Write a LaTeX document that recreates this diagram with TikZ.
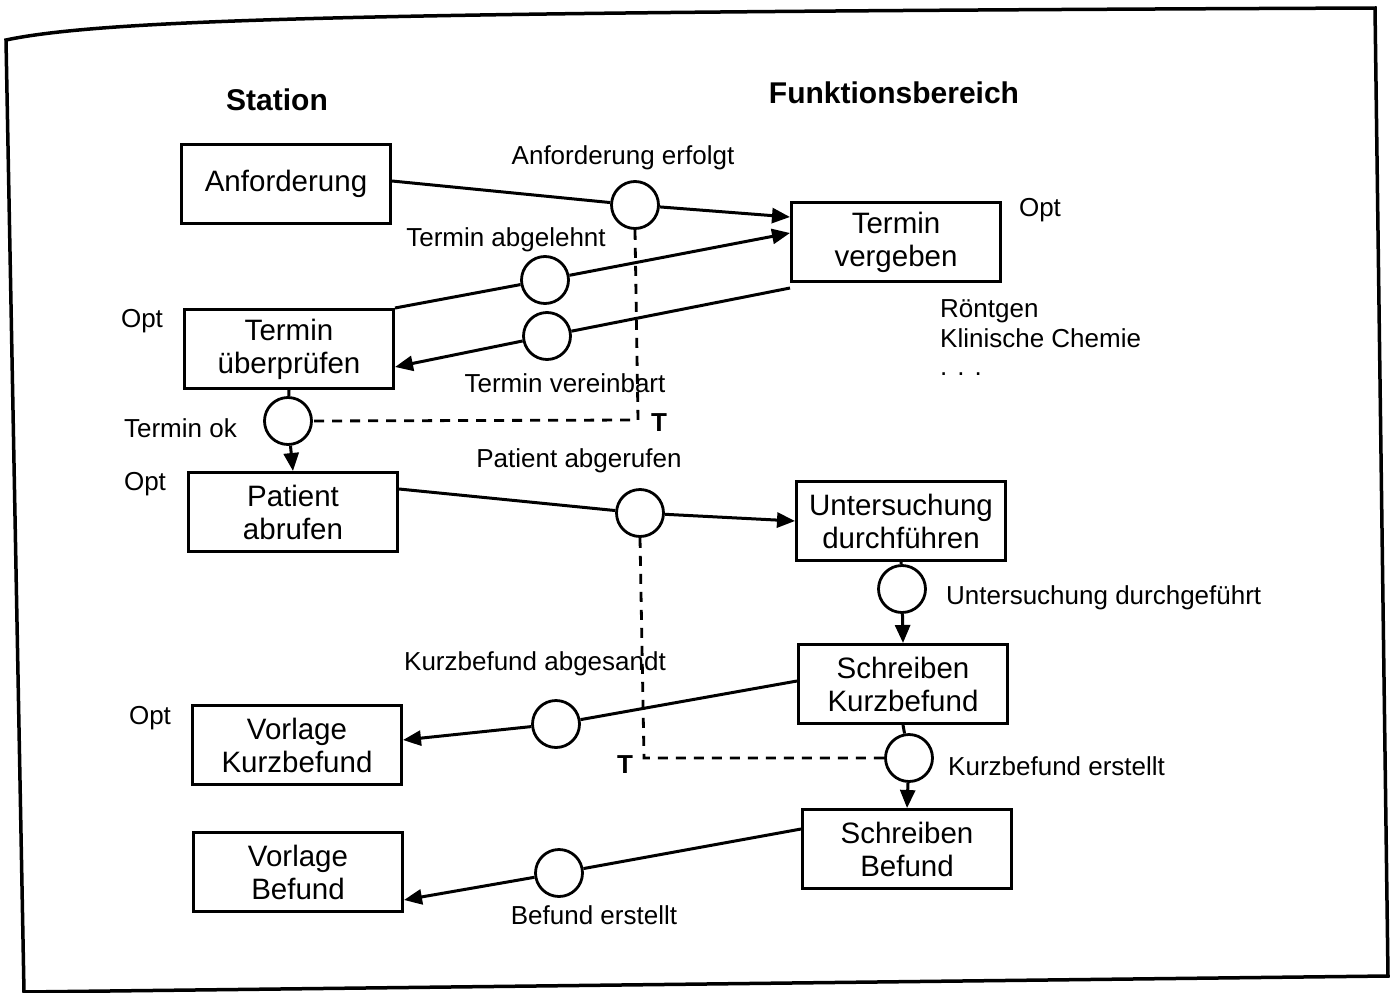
\documentclass[tikz,border=0pt]{standalone}
\usepackage{fontspec}
\setmainfont{Liberation Sans}
\usetikzlibrary{arrows.meta}
\tikzset{
  box/.style={draw, line width=3pt, minimum width=209pt, minimum height=79pt, align=center, inner sep=0pt, font=\fontsize{29.5}{33}\selectfont},
  place/.style={circle, draw, line width=2.8pt, minimum size=47pt, inner sep=0pt},
  lbl/.style={inner sep=0pt, font=\fontsize{26}{31}\selectfont},
  head/.style={inner sep=0pt, font=\fontsize{30}{34}\selectfont\bfseries},
  conn/.style={line width=3pt},
  arr/.style={conn, -{Triangle[length=18pt,width=15pt]}},
  dashline/.style={line width=2.8pt, dash pattern=on 10pt off 8pt},
  frame/.style={line width=3.5pt, line join=miter}
}
\begin{document}
\begin{tikzpicture}[x=1pt,y=-1pt]
\useasboundingbox (0,0) rectangle (1398,993);
% frame
\draw[frame] (6,40) .. controls (110,18) and (400,12) .. (1375,8) -- (1388,976) -- (24,992) -- cycle;

% headings
\node[head] (hst) at (277,100) {Station};
\node[head] (hfb) at (894,93) {Funktionsbereich};

% boxes
\node[box] (anf) at (286,184) {Anforderung};
\node[box] (tv) at (896,242) {Termin\\vergeben};
\node[box] (tu) at (289,349) {Termin\\überprüfen};
\node[box] (pa) at (293,512) {Patient\\abrufen};
\node[box] (ud) at (901,521) {Untersuchung\\durchführen};
\node[box] (sk) at (903,684) {Schreiben\\Kurzbefund};
\node[box] (vk) at (297,745) {Vorlage\\Kurzbefund};
\node[box] (sb) at (907,849) {Schreiben\\Befund};
\node[box] (vb) at (298,872) {Vorlage\\Befund};

% places
\node[place] (c1) at (635,205) {};
\node[place] (c2) at (545,280) {};
\node[place] (c3) at (547,336) {};
\node[place] (c4) at (288,421) {};
\node[place] (c5) at (640,513) {};
\node[place] (c6) at (902,589) {};
\node[place] (c7) at (556,724) {};
\node[place] (c8) at (909,758) {};
\node[place] (c9) at (559,873) {};

% labels
\node[lbl] (l1) at (623,158) {Anforderung erfolgt};
\node[lbl] (l2) at (506,240) {Termin abgelehnt};
\node[lbl] (l3) at (565,383) {Termin vereinbart};
\node[lbl, anchor=east] (l4) at (237,428) {Termin ok};
\node[lbl] (l5) at (579,461) {Patient abgerufen};
\node[lbl, anchor=west] (l6) at (946,598) {Untersuchung durchgeführt};
\node[lbl] (l7) at (535,664) {Kurzbefund abgesandt};
\node[lbl, anchor=west] (l8) at (948,766) {Kurzbefund erstellt};
\node[lbl] (l9) at (594,915) {Befund erstellt};

\node[lbl] (o1) at (1040,210) {Opt};
\node[lbl] (o2) at (142,321) {Opt};
\node[lbl] (o3) at (145,484) {Opt};
\node[lbl] (o4) at (150,718) {Opt};

\node[lbl, anchor=west] (r1) at (940,311) {Röntgen};
\node[lbl, anchor=west] (r2) at (940,338) {Klinische Chemie};
\node[lbl, anchor=west] (r3) at (940,374) {.\hspace{10pt}.\hspace{10pt}.};

\node[lbl, font=\fontsize{26}{31}\selectfont\bfseries] (t1) at (659,423) {T};
\node[lbl, font=\fontsize{26}{31}\selectfont\bfseries] (t2) at (625,765) {T};

% connectors
\draw[conn] ([yshift=3pt]anf.east) -- (c1);
\draw[arr] (c1) -- ([yshift=25pt]tv.west);
\draw[conn] (tu.north east) -- (c2);
\draw[arr] (c2) -- ([yshift=9pt]tv.west);
\draw[conn] ([yshift=-5pt]tv.south west) -- (c3);
\draw[arr] (c3) -- ([yshift=-18pt]tu.east);
\draw[conn] (tu.south) -- (c4);
\draw[arr] (c4) -- (pa.north);
\draw[conn] ([yshift=23pt]pa.east) -- (c5);
\draw[arr] (c5) -- (ud.west);
\draw[conn] (ud.south) -- (c6);
\draw[arr] (c6) -- (sk.north);
\draw[conn] ([yshift=3pt]sk.west) -- (c7);
\draw[arr] (c7) -- ([yshift=5pt]vk.east);
\draw[conn] (sk.south) -- (c8);
\draw[arr] (c8) -- (sb.north);
\draw[conn] ([yshift=20pt]sb.west) -- (c9);
\draw[arr] (c9) -- ([yshift=-28pt]vb.east);

% dashed synchronisation lines
\coordinate (k1) at (638,420);
\coordinate (k2) at (644,758);
\draw[dashline] (c1.south) -- (k1) -- (c4.east);
\draw[dashline] (c5.south) -- (k2) -- (c8.west);
\end{tikzpicture}
\end{document}
